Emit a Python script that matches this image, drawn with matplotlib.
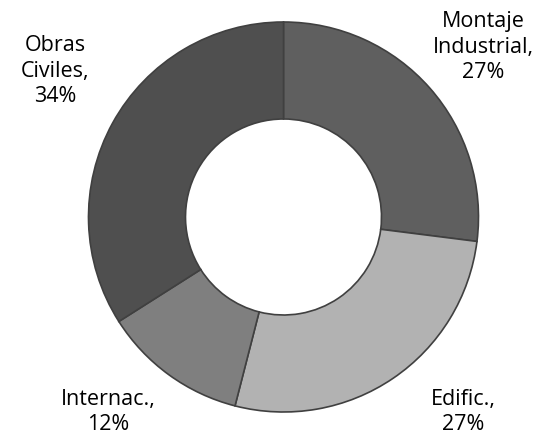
import matplotlib.pyplot as plt

names = ["Montaje\nIndustrial", "Edific.", "Internac.", "Obras\nCiviles"]
shares = [27, 27, 12, 34]
colors = ["#5f5f5f", "#b2b2b2", "#7f7f7f", "#4f4f4f"]

# label block centres, in pixels from the bottom left
label_pos = [(483, 391), (463, 26), (108, 26), (55, 367)]

plt.rcParams['font.family'] = ['Open Sans', 'DejaVu Sans']

fig = plt.figure(figsize=[5.4, 4.38], dpi=100)
ax = fig.add_axes([0, 0, 1, 1])
ax.set_xlim(0, 540)
ax.set_ylim(0, 438)
ax.set_aspect('equal')
ax.axis('off')

ax.pie(shares, colors=colors, startangle=90, counterclock=False,
       center=(283.5, 221), radius=195,
       wedgeprops=dict(width=97, edgecolor='#404040', linewidth=1.2))

for name, share, (x, y) in zip(names, shares, label_pos):
  ax.text(x, y, name + ",\n" + str(share) + "%", ha='center', va='center',
          fontsize=15.5, color='black', linespacing=1.3)

ax.set_xlim(0, 540)
ax.set_ylim(0, 438)
fig.savefig('out.png', dpi=100)
